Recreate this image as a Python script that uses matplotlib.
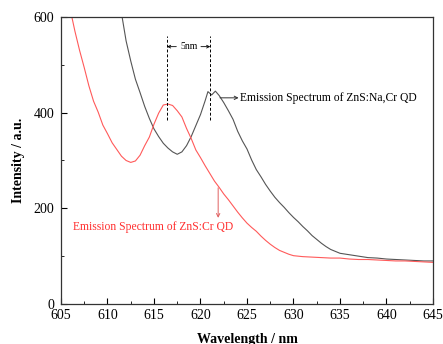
"""
Emission spectra of ZnS:Cr and ZnS:Na,Cr quantum dots.
"""

import matplotlib.pyplot as plt
from matplotlib.ticker import MultipleLocator

# wavelength (nm) and intensity (a.u.)
wl_nacr = [611.4, 612.0, 612.5, 613.0, 613.5, 614.0, 614.5, 615.0, 615.5,
           616.0, 616.5, 617.0, 617.5, 618.0, 618.5, 619.0, 619.5, 620.0,
           620.5, 620.8, 621.2, 621.6, 622.0, 622.5, 623.0, 623.5, 624.0,
           624.5, 625.0, 625.5, 626.0, 626.5, 627.0, 627.5, 628.0, 628.5,
           629.0, 629.5, 630.0, 630.5, 631.0, 631.5, 632.0, 632.5, 633.0,
           633.5, 634.0, 634.5, 635.0, 636.0, 637.0, 638.0, 639.0, 640.0,
           641.0, 642.0, 643.0, 644.0, 645.0]
int_nacr = [620, 550, 508, 470, 442, 413, 388, 366, 350,
            336, 326, 318, 313, 318, 331, 350, 373, 396,
            425, 444, 437, 445, 436, 421, 404, 386, 361,
            341, 324, 301, 281, 266, 250, 236, 223, 212,
            202, 191, 181, 172, 162, 153, 143, 135, 127,
            120, 114, 110, 106, 103, 100, 97, 96, 94,
            93, 92, 91, 90, 90]

wl_cr = [606.0, 606.5, 607.0, 607.5, 608.0, 608.5, 609.0, 609.5, 610.0,
         610.5, 611.0, 611.5, 612.0, 612.5, 613.0, 613.5, 614.0, 614.5,
         615.0, 615.5, 616.0, 616.5, 617.0, 617.5, 618.0, 618.5, 619.0,
         619.5, 620.0, 620.5, 621.0, 621.5, 622.0, 622.5, 623.0, 623.5,
         624.0, 624.5, 625.0, 625.5, 626.0, 626.5, 627.0, 627.5, 628.0,
         628.5, 629.0, 629.5, 630.0, 631.0, 632.0, 633.0, 634.0, 635.0,
         636.0, 637.0, 638.0, 639.0, 640.0, 641.0, 642.0, 643.0, 644.0,
         645.0]
int_cr = [615, 570, 530, 494, 456, 424, 401, 374, 356,
          337, 323, 309, 300, 296, 299, 311, 331, 349,
          376, 399, 416, 418, 415, 404, 391, 367, 346,
          322, 306, 289, 273, 257, 244, 230, 218, 205,
          192, 180, 169, 160, 152, 142, 133, 125, 118,
          112, 108, 104, 101, 99, 98, 97, 96, 96,
          94, 93, 93, 92, 91, 90, 90, 89, 88,
          87]

label_nacr = "Emission Spectrum of ZnS:Na,Cr QD"
label_cr = "Emission Spectrum of ZnS:Cr QD"
peak_cr = 616.4
peak_nacr = 621.05

plt.rcParams["font.family"] = ["Liberation Serif", "DejaVu Serif"]

fig = plt.figure(figsize=(4.43, 3.44), dpi=100)
ax = fig.add_axes([0.1377, 0.1163, 0.8397, 0.8343])

ax.plot(wl_nacr, int_nacr, color="#555555", lw=0.8)
ax.plot(wl_cr, int_cr, color="#ff5a5a", lw=0.8)

ax.set_xlim(605, 645)
ax.set_ylim(0, 600)
ax.xaxis.set_major_locator(MultipleLocator(5))
ax.xaxis.set_minor_locator(MultipleLocator(2.5))
ax.yaxis.set_major_locator(MultipleLocator(200))
ax.yaxis.set_minor_locator(MultipleLocator(100))
ax.tick_params(which="both", direction="in", labelsize=10,
               top=False, right=False)
ax.tick_params(which="major", length=4)
ax.tick_params(which="minor", length=2.5)
ax.tick_params(axis="y", pad=5)
for sp in ax.spines.values():
    sp.set_linewidth(0.9)
    sp.set_color("#333333")

ax.set_xlabel("Wavelength / nm", fontsize=10, fontweight="bold", labelpad=8)
ax.set_ylabel("Intensity / a.u.", fontsize=10, fontweight="bold", labelpad=6)

# peak shift marker
for xp in (peak_cr, peak_nacr):
    ax.plot([xp, xp], [385, 560], color="black", lw=0.7, ls=(0, (3, 2)))
ax.text((peak_cr + peak_nacr) / 2, 538, "5nm", fontsize=7,
        ha="center", va="center")
ax.annotate("", xy=(peak_cr, 538), xytext=(peak_cr + 1.0, 538),
            arrowprops=dict(arrowstyle="->", lw=0.6, color="black",
                            shrinkA=0, shrinkB=0, mutation_scale=5))
ax.annotate("", xy=(peak_nacr, 538), xytext=(peak_nacr - 1.0, 538),
            arrowprops=dict(arrowstyle="->", lw=0.6, color="black",
                            shrinkA=0, shrinkB=0, mutation_scale=5))

# curve labels
ax.annotate("", xy=(624.1, 431), xytext=(622.1, 431),
            arrowprops=dict(arrowstyle="->", lw=0.7, color="#333333",
                            shrinkA=0, shrinkB=0, mutation_scale=6))
ax.text(624.3, 431, label_nacr, fontsize=8.4, ha="left", va="center")
ax.annotate("", xy=(621.9, 180), xytext=(621.9, 243),
            arrowprops=dict(arrowstyle="->", lw=0.7, color="#e06060",
                            shrinkA=0, shrinkB=0, mutation_scale=6))
ax.text(606.3, 160, label_cr, fontsize=8.4, ha="left", va="center",
        color="#ff3030")

fig.savefig("out.png", dpi=100)
